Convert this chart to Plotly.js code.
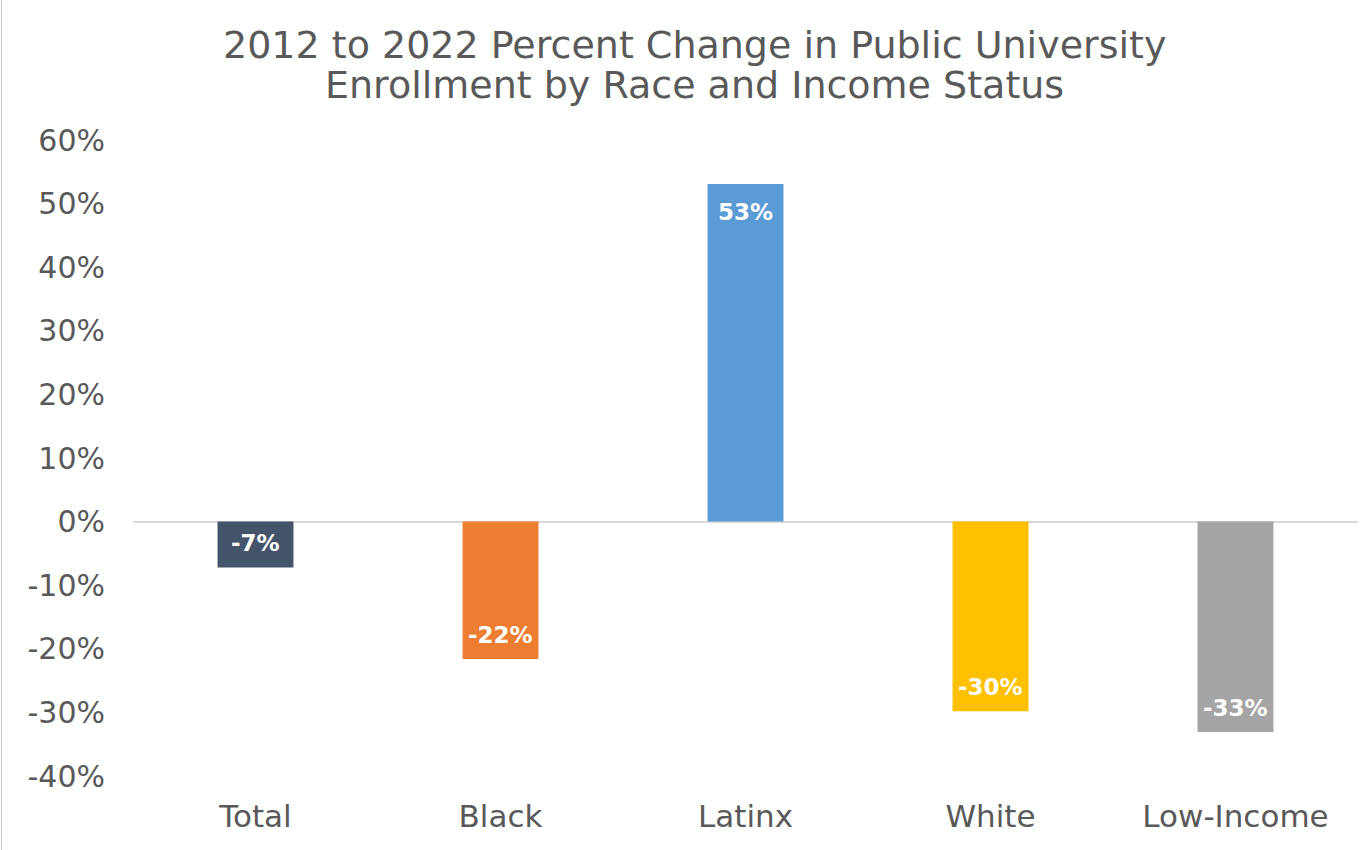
<!DOCTYPE html>
<html><head><meta charset="utf-8">
<script src="https://cdn.plot.ly/plotly-3.0.1.min.js"></script>
<style>body{margin:0;background:#fff}#chart{width:1362px;height:850px}#edge{position:fixed;left:1px;top:0;width:1px;height:850px;background:#c8c8c8}</style>
</head><body><div id="chart"></div><div id="edge"></div>
<script>
const categories = ["Total", "Black", "Latinx", "White", "Low-Income"];
const values = [-7.2, -21.6, 53.1, -29.8, -33.1];
const labels = ["-7%", "-22%", "53%", "-30%", "-33%"];
const colors = ["#44546A", "#ED7D31", "#5B9BD5", "#FFC000", "#A5A5A5"];
const yTicks = [-40, -30, -20, -10, 0, 10, 20, 30, 40, 50, 60];
const yTickText = yTicks.map(v => v + "%");
const titleLines = ["2012 to 2022 Percent Change in Public University", "Enrollment by Race and Income Status"];
const fontFam = "'DejaVu Sans', sans-serif";

const annotations = categories.map((c, i) => ({
  x: c, y: values[i], xref: "x", yref: "y", text: labels[i], showarrow: false,
  yanchor: "middle", yshift: values[i] >= 0 ? -28 : 24,
  font: {family: fontFam, size: 23, color: "#ffffff", weight: "bold"}
}));
titleLines.forEach((t, i) => annotations.push({
  text: t, xref: "paper", yref: "paper", x: 0.458, y: 1, yanchor: "middle", xanchor: "center",
  yshift: 140 - 45 - i * 40, showarrow: false,
  font: {family: fontFam, size: 38, color: "#595959"}
}));

Plotly.newPlot("chart", [{
  type: "bar", x: categories, y: values,
  marker: {color: colors}, hoverinfo: "none"
}], {
  width: 1362, height: 850,
  margin: {l: 133, r: 4, t: 140, b: 74},
  paper_bgcolor: "#fff", plot_bgcolor: "#fff",
  bargap: 0.69,
  showlegend: false,
  annotations: annotations,
  xaxis: {tickfont: {family: fontFam, size: 31, color: "#595959"}, showgrid: false, showline: false, ticks: "", ticklabelstandoff: 19},
  yaxis: {range: [-40, 60], tickvals: yTicks, ticktext: yTickText, showgrid: false, zeroline: true,
    zerolinecolor: "#D9D9D9", zerolinewidth: 2, showline: false, ticks: "",
    tickfont: {family: fontFam, size: 30, color: "#595959"}, ticklabelstandoff: 27}
}, {staticPlot: true});
</script></body></html>
